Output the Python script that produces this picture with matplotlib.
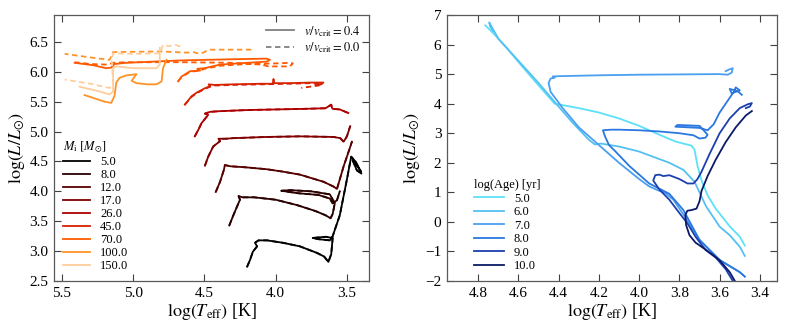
import numpy as np
import matplotlib
matplotlib.use('Agg')
from matplotlib import pyplot as plt
from matplotlib.lines import Line2D

plt.rcParams['font.family'] = ['Liberation Serif', 'DejaVu Serif']
plt.rcParams['mathtext.fontset'] = 'stix'

# ---- left panel: evolutionary tracks (log Teff, log L) ----
masses = ['5.0', '8.0', '12.0', '17.0', '26.0', '45.0', '70.0', '100.0', '150.0']

t5_x = [4.20, 4.18, 4.16, 4.13, 4.145, 4.12, 4.06, 3.95, 3.83, 3.71, 3.66, 3.63, 3.61, 3.60,
        3.65, 3.74, 3.70, 3.62, 3.60, 3.55, 3.50, 3.47, 3.44, 3.40, 3.42, 3.46, 3.43, 3.40]
t5_y = [2.74, 2.85, 2.99, 3.08, 3.14, 3.18, 3.18, 3.14, 3.08, 2.97, 2.91, 2.82, 2.95, 3.22,
        3.24, 3.22, 3.20, 3.18, 3.25, 3.60, 4.20, 4.58, 4.50, 4.32, 4.40, 4.52, 4.35, 4.30]

t8_x = [4.325, 4.30, 4.27, 4.25, 4.26, 4.23, 4.15, 4.00, 3.85, 3.72, 3.65, 3.615, 3.60, 3.585,
        3.62, 3.75, 3.90, 3.96, 3.85, 3.70, 3.62, 3.60, 3.57, 3.55]
t8_y = [3.43, 3.58, 3.75, 3.86, 3.92, 3.90, 3.90, 3.86, 3.77, 3.67, 3.60, 3.55, 3.62, 3.80,
        3.95, 4.00, 4.02, 4.01, 3.97, 3.94, 3.88, 3.80, 3.85, 4.00]

t12_x = [4.42, 4.39, 4.363, 4.356, 4.32, 4.20, 4.063, 3.95, 3.83, 3.664, 3.594, 3.57, 3.55,
         3.523, 3.49, 3.465]
t12_y = [3.99, 4.16, 4.36, 4.44, 4.42, 4.40, 4.37, 4.33, 4.28, 4.16, 4.08, 4.04, 4.20,
         4.42, 4.65, 4.83]

t17_x = [4.496, 4.473, 4.438, 4.39, 4.40, 4.35, 4.297, 4.06, 3.83, 3.594, 3.547, 3.523, 3.50, 3.477]
t17_y = [4.43, 4.58, 4.75, 4.84, 4.88, 4.88, 4.89, 4.91, 4.92, 4.91, 4.89, 4.83, 4.92, 5.09]

t26_x = [4.567, 4.54, 4.52, 4.473, 4.496, 4.46, 4.40, 4.20, 4.00, 3.80, 3.65, 3.61, 3.605,
         3.60, 3.55, 3.53, 3.49]
t26_y = [4.92, 5.04, 5.14, 5.28, 5.30, 5.33, 5.34, 5.36, 5.37, 5.38, 5.39, 5.45, 5.40,
         5.38, 5.37, 5.35, 5.31]

t45_x = [4.637, 4.59, 4.555, 4.50, 4.46, 4.47, 4.43, 4.30, 4.10, 4.02, 4.015, 4.01, 3.90,
         3.75, 3.665, 3.68, 3.72]
t45_y = [5.45, 5.59, 5.65, 5.72, 5.76, 5.79, 5.78, 5.79, 5.80, 5.80, 5.88, 5.81, 5.81,
         5.82, 5.82, 5.79, 5.78]
t45d_x = [4.637, 4.59, 4.555, 4.50, 4.46, 4.43, 4.30, 4.10, 3.90, 3.75, 3.68, 3.70, 3.82]
t45d_y = [5.45, 5.58, 5.64, 5.71, 5.75, 5.77, 5.78, 5.79, 5.80, 5.81, 5.80, 5.77, 5.73]

t70_x = [4.684, 4.66, 4.60, 4.53, 4.55, 4.50, 4.39, 4.20, 4.063, 4.04, 4.063, 4.30, 4.67,
         5.05, 5.13, 5.153, 5.19, 5.28, 5.41]
t70_y = [5.84, 5.92, 6.01, 6.02, 6.05, 6.06, 6.12, 6.15, 6.17, 6.20, 6.22, 6.21, 6.19,
         6.15, 6.13, 6.07, 6.06, 6.11, 6.15]
t70d_x = [4.684, 4.66, 4.60, 4.53, 4.50, 4.39, 4.20, 4.00, 3.90, 3.88, 3.90, 4.05, 4.10,
          4.30, 4.67, 5.05, 5.14, 5.18, 5.30, 5.41]
t70d_y = [5.84, 5.91, 6.00, 6.02, 6.05, 6.10, 6.13, 6.14, 6.15, 6.14, 6.09, 6.09, 6.12,
          6.15, 6.16, 6.16, 6.15, 6.12, 6.13, 6.16]

t100_x = [4.766, 4.79, 4.80, 4.836, 4.90, 4.977, 5.01, 4.977, 5.047, 5.094, 5.118, 5.13,
          5.153, 5.20, 5.34]
t100_y = [6.20, 6.06, 5.84, 5.79, 5.79, 5.81, 5.85, 5.96, 5.94, 5.90, 5.82, 5.60,
          5.48, 5.50, 5.61]
t100d_x = [4.17, 4.35, 4.47, 4.50, 4.53, 4.58, 4.62, 4.80, 5.14, 5.165, 5.30, 5.48]
t100d_y = [6.37, 6.37, 6.37, 6.33, 6.30, 6.33, 6.32, 6.34, 6.33, 6.20, 6.24, 6.30]

t150_x = [4.813, 4.813, 4.836, 5.00, 5.118, 5.14, 5.14, 5.165, 5.25, 5.376]
t150_y = [6.40, 6.12, 6.06, 6.06, 6.09, 6.06, 5.67, 5.62, 5.68, 5.75]
t150d_x = [4.67, 4.70, 4.75, 4.79, 4.80, 4.81, 5.00, 5.14, 5.15, 5.14, 5.165, 5.30, 5.48]
t150d_y = [6.42, 6.45, 6.43, 6.45, 6.38, 6.31, 6.30, 6.31, 6.22, 5.80, 5.73, 5.80, 5.87]

rot_tracks = [(t5_x, t5_y), (t8_x, t8_y), (t12_x, t12_y), (t17_x, t17_y), (t26_x, t26_y),
              (t45_x, t45_y), (t70_x, t70_y), (t100_x, t100_y), (t150_x, t150_y)]
norot_tracks = [(t5_x, t5_y), (t8_x, t8_y), (t12_x, t12_y), (t17_x, t17_y), (t26_x, t26_y),
                (t45d_x, t45d_y), (t70d_x, t70d_y), (t100d_x, t100d_y), (t150d_x, t150d_y)]

# ---- right panel: isochrones ----
ages = ['5.0', '6.0', '7.0', '8.0', '9.0', '10.0']

i5_x = [3.475, 3.50, 3.55, 3.62, 3.66, 3.69, 3.71, 3.725, 3.74, 3.82, 3.90, 4.00, 4.10,
        4.20, 4.30, 4.38, 4.42, 4.50, 4.58, 4.66, 4.72, 4.765]
i5_y = [-0.80, -0.50, -0.15, 0.45, 0.90, 1.40, 1.90, 2.45, 2.58, 2.72, 2.95, 3.25, 3.50,
        3.70, 3.85, 3.95, 4.00, 4.62, 5.25, 5.90, 6.35, 6.65]

i6_x = [3.475, 3.50, 3.55, 3.60, 3.667, 3.725, 3.78, 3.85, 4.00, 4.10, 4.19, 4.22, 4.25,
        4.33, 4.40, 4.50, 4.60, 4.70, 4.745, 4.74, 4.725]
i6_y = [-1.15, -0.84, -0.45, -0.16, 0.52, 1.36, 1.76, 2.00, 2.38, 2.55, 2.65, 2.62, 2.78,
        3.35, 3.90, 4.70, 5.45, 6.20, 6.75, 6.60, 6.45]

i7_x = [3.475, 3.50, 3.60, 3.70, 3.78, 3.83, 3.87, 3.90, 3.95, 4.00, 4.10, 4.20, 4.30,
        4.38, 4.44, 4.45, 4.44, 4.42, 4.43, 4.40, 4.20, 4.00, 3.80, 3.60, 3.56, 3.54,
        3.535, 3.555, 3.57]
i7_y = [-1.85, -1.70, -1.29, -0.61, 0.25, 0.75, 0.98, 1.05, 1.20, 1.45, 2.00, 2.60, 3.20,
        3.85, 4.40, 4.70, 4.85, 4.88, 4.92, 4.93, 4.96, 4.98, 4.99, 5.00, 4.98, 5.05,
        5.20, 5.15, 5.10]

i8_x = [3.475, 3.50, 3.60, 3.70, 3.78, 3.85, 3.95, 4.05, 4.12, 4.15, 4.17, 4.18, 4.14,
        4.10, 4.00, 3.90, 3.80, 3.73, 3.70, 3.67, 3.66, 3.70, 3.81, 3.82, 3.70, 3.66,
        3.63, 3.60, 3.56, 3.53, 3.52, 3.50, 3.54, 3.55, 3.51, 3.49]
i8_y = [-1.85, -1.70, -1.29, -0.61, 0.40, 0.95, 1.30, 1.90, 2.40, 2.60, 2.90, 3.10, 3.12,
        3.12, 3.10, 3.06, 3.00, 2.93, 2.82, 2.85, 2.95, 3.25, 3.28, 3.22, 3.18, 3.10,
        3.30, 3.70, 4.10, 4.40, 4.55, 4.45, 4.35, 4.50, 4.42, 4.30]

i9_x = [3.53, 3.57, 3.62, 3.67, 3.72, 3.76, 3.80, 3.85, 3.90, 3.93, 3.92, 3.90, 3.88,
        3.85, 3.80, 3.76, 3.73, 3.71, 3.69, 3.65, 3.60, 3.55, 3.50, 3.46, 3.44, 3.45, 3.47]
i9_y = [-2.05, -1.60, -1.20, -0.95, -0.50, -0.05, 0.30, 0.75, 1.10, 1.40, 1.58, 1.60, 1.55,
        1.58, 1.45, 1.30, 1.30, 1.45, 1.70, 2.30, 3.00, 3.50, 3.85, 3.98, 4.02, 3.90, 3.85]

i10_x = [3.52, 3.55, 3.60, 3.667, 3.72, 3.75, 3.767, 3.77, 3.76, 3.74, 3.715, 3.70, 3.69,
         3.66, 3.62, 3.57, 3.52, 3.47, 3.44]
i10_y = [-2.05, -1.70, -1.30, -0.95, -0.70, -0.45, -0.10, 0.25, 0.38, 0.40, 0.45, 0.70, 1.05,
         1.55, 2.10, 2.70, 3.20, 3.60, 3.75]

isochrones = [(i5_x, i5_y), (i6_x, i6_y), (i7_x, i7_y), (i8_x, i8_y), (i9_x, i9_y), (i10_x, i10_y)]

heat = plt.cm.gist_heat(np.linspace(0, 0.9, len(masses)))
blues = ['#5ce1f9', '#55c0f2', '#4a9ff0', '#2a78e0', '#1c3fae', '#0b1a66']

fig = plt.figure(figsize=(7.89, 3.31), dpi=100)
ax1 = fig.add_axes([0.0684, 0.151, 0.3993, 0.8037])
ax2 = fig.add_axes([0.5665, 0.151, 0.4183, 0.8037])

for ax in (ax1, ax2):
    ax.tick_params(direction='in', top=True, right=True, length=5, width=0.8,
                   labelsize=11, colors='0.25', labelcolor='k', pad=4)
    for s in ax.spines.values():
        s.set_color('0.35')
        s.set_linewidth(0.9)
    ax.set_xlabel(r'$\log(T_{\rm eff})$ [K]', fontsize=13, labelpad=1)
    ax.set_ylabel(r'$\log(L/L_{\odot})$', fontsize=13, labelpad=2)

# left
for (x, y), (xd, yd), c, m in zip(rot_tracks, norot_tracks, heat, masses):
    ax1.plot(x, y, color=c, lw=1.3, label=m)
    ax1.plot(xd, yd, color=c, lw=1.3, ls='--', dashes=(3, 2))

ax1.set_xlim(5.555, 3.345)
ax1.set_ylim(2.5, 6.95)
ax1.set_xticks([5.5, 5.0, 4.5, 4.0, 3.5])
ax1.set_yticks([2.5, 3.0, 3.5, 4.0, 4.5, 5.0, 5.5, 6.0, 6.5])
ax1.xaxis.set_major_formatter(matplotlib.ticker.FormatStrFormatter('%.1f'))
ax1.yaxis.set_major_formatter(matplotlib.ticker.FormatStrFormatter('%.1f'))

leg1 = ax1.legend(loc='lower left', title=r'$M_{\rm i}\ [M_{\odot}]$', frameon=False,
                  fontsize=9, title_fontsize=9, handlelength=2.2, labelspacing=0.08,
                  borderaxespad=0.3, handletextpad=0.8)
leg1._legend_box.align = 'left'

styles = [Line2D([], [], color='0.5', lw=1.3),
          Line2D([], [], color='0.5', lw=1.3, ls='--', dashes=(3, 2))]
leg2 = ax1.legend(styles, [r'$v/v_{\rm crit} = 0.4$', r'$v/v_{\rm crit} = 0.0$'],
                  loc='upper right', frameon=False, fontsize=9, handlelength=2.2,
                  labelspacing=0.15, borderaxespad=0.3)
ax1.add_artist(leg1)

# right
for (x, y), c, a in zip(isochrones, blues, ages):
    ax2.plot(x, y, color=c, lw=1.3, label=a)

ax2.set_xlim(4.955, 3.315)
ax2.set_ylim(-2, 7)
ax2.set_xticks([4.8, 4.6, 4.4, 4.2, 4.0, 3.8, 3.6, 3.4])
ax2.set_yticks(range(-2, 8))
ax2.xaxis.set_major_formatter(matplotlib.ticker.FormatStrFormatter('%.1f'))
leg3 = ax2.legend(loc='lower left', bbox_to_anchor=(0.055, 0.0), title='log(Age) [yr]',
                  frameon=False, fontsize=9, title_fontsize=9, handlelength=2.4,
                  labelspacing=0.12, borderaxespad=0.3, handletextpad=0.8)
leg3._legend_box.align = 'left'

fig.savefig('out.png', dpi=100)
